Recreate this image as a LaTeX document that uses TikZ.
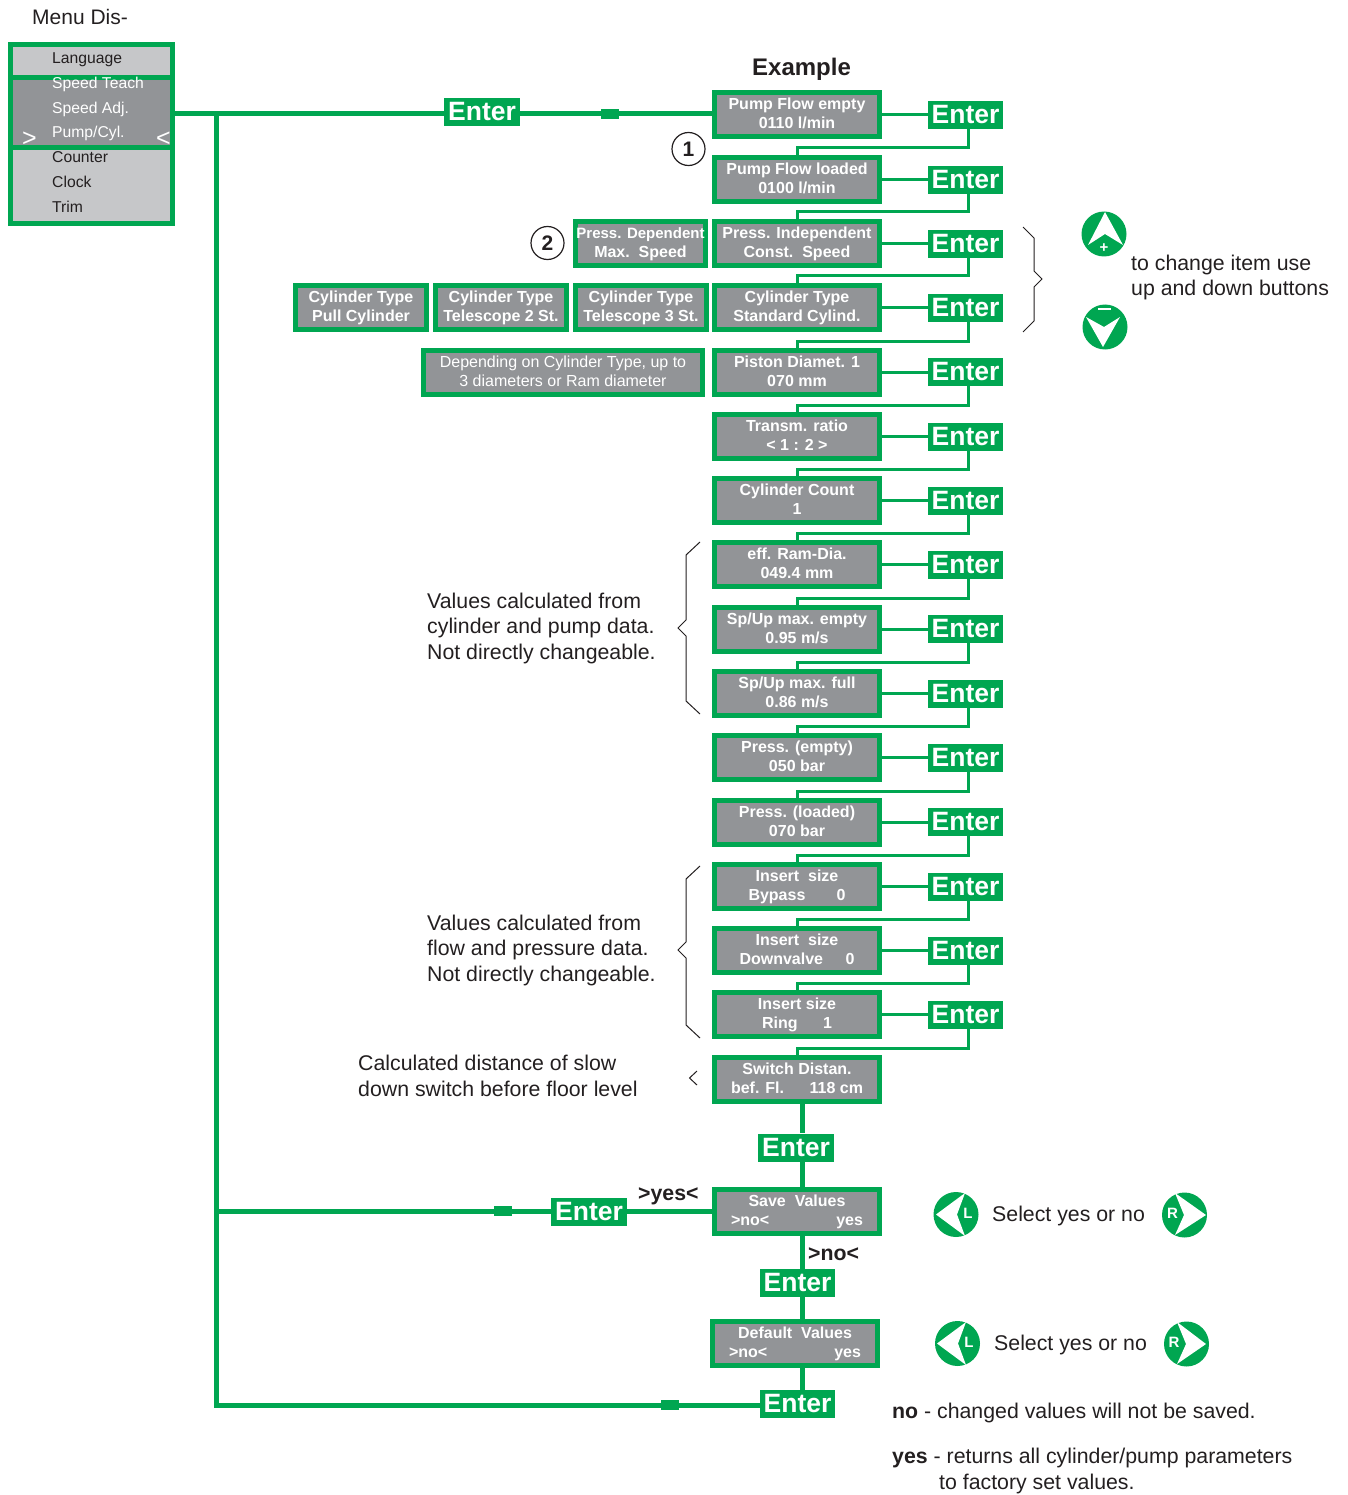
\documentclass[tikz,border=0pt]{standalone}
\usepackage{fontspec}
\setmainfont{Liberation Sans}
\definecolor{gr}{HTML}{00A651}
\definecolor{dk}{HTML}{929497}
\definecolor{lt}{HTML}{C6C7C9}
\definecolor{ink}{HTML}{231F20}
\tikzset{
 dbox/.style={draw=gr,line width=5pt,fill=dk,text=white,align=center,inner sep=0pt,minimum height=44pt,
   text height=33pt,text depth=4.8pt,
   font=\fontsize{16}{19}\selectfont\bfseries},
 mainbox/.style={dbox,minimum width=165pt},
 enterbox/.style={fill=gr,text=white,inner sep=0pt,minimum width=75pt,minimum height=28pt,
   text height=19.5pt,text depth=2.5pt,
   font=\fontsize{26.5}{28}\selectfont\bfseries},
 link/.style={draw=gr,line width=3pt},
 trunk/.style={draw=gr,line width=5pt},
 sq/.style={fill=gr,inner sep=0pt,minimum width=18pt,minimum height=10pt},
 note/.style={text=ink,anchor=base west,align=left,inner sep=0pt,font=\fontsize{21.3}{25.5}\selectfont},
 menuitem/.style={anchor=base west,inner sep=0pt,font=\fontsize{15.7}{18}\selectfont},
 num/.style={circle,draw=ink,line width=1.2pt,minimum size=33pt,inner sep=0pt,text=ink,font=\fontsize{21}{24}\selectfont\bfseries},
 brace/.style={draw=ink,line width=1pt},
 keyl/.style={text=white,inner sep=0pt,font=\fontsize{15}{16}\selectfont\bfseries},
}
\newcommand\rowlink[3]{%
 \draw[link] (#1.east) -- (#1.east -| #2.west);
 \draw[link] ([xshift=2.5pt]#2.south) |- ([yshift=7pt]#3.north) -- (#3.north);}
\begin{document}
\begin{tikzpicture}[x=1pt,y=-1pt]
\useasboundingbox (0,0) rectangle (1347,1495);
% menu
\node[draw=gr,line width=5pt,fill=lt,inner sep=0pt,minimum width=162.5pt,minimum height=179pt] (menu) at (91.5,134.5) {};
\node[draw=gr,line width=5pt,fill=dk,inner sep=0pt,minimum width=162.5pt,minimum height=70pt] (band) at (91.5,112.5) {};
\node[menuitem,text=ink] (m1) at (52,64) {Language};
\node[menuitem,text=white] (m2) at (52,89) {Speed Teach};
\node[menuitem,text=white] (m3) at (52,114) {Speed Adj.};
\node[menuitem,text=white] (m4) at (52,138) {Pump/Cyl.};
\node[menuitem,text=ink] (m5) at (52,163) {Counter};
\node[menuitem,text=ink] (m6) at (52,188) {Clock};
\node[menuitem,text=ink] (m7) at (52,213) {Trim};
\node[text=white,inner sep=0pt,font=\fontsize{25}{26}\selectfont] (ga) at (29.5,139) {>};
\node[text=white,inner sep=0pt,font=\fontsize{25}{26}\selectfont] (lt) at (163.5,139) {<};
\node[note,font=\fontsize{21}{24}\selectfont] (title) at (32,25) {Menu Dis-};
\node[note,font=\fontsize{24}{28}\selectfont\bfseries] (example) at (752,76) {Example};
% main column
\node[mainbox] (b1) at (797,114.5) {Pump Flow empty\\0110 l/min};
\node[mainbox] (b2) at (797,179.5) {Pump Flow loaded\\0100 l/min};
\node[mainbox] (b3) at (797,243.5) {Press. Independent\\Const.\ \ Speed};
\node[mainbox] (b4) at (797,307.5) {Cylinder Type\\Standard Cylind.};
\node[mainbox] (b5) at (797,372.5) {Piston Diamet. 1\\070 mm};
\node[mainbox] (b6) at (797,436.5) {Transm. ratio\\< 1 : 2 >};
\node[mainbox] (b7) at (797,500.5) {Cylinder Count\\1};
\node[mainbox] (b8) at (797,564.5) {eff. Ram-Dia.\\049.4 mm};
\node[mainbox] (b9) at (797,629.5) {Sp/Up max. empty\\0.95 m/s};
\node[mainbox] (b10) at (797,693.5) {Sp/Up max. full\\0.86 m/s};
\node[mainbox] (b11) at (797,757.5) {Press. (empty)\\050 bar};
\node[mainbox] (b12) at (797,822.5) {Press. (loaded)\\070 bar};
\node[mainbox] (b13) at (797,886.5) {Insert\ \ size\\\makebox[97pt]{Bypass\hfill 0}};
\node[mainbox] (b14) at (797,950.5) {Insert\ \ size\\\makebox[115pt]{Downvalve\hfill 0}};
\node[mainbox] (b15) at (797,1014.5) {Insert size\\\makebox[70pt]{Ring\hfill 1}};
\node[mainbox] (b16) at (797,1079.5) {Switch Distan.\\\makebox[132pt]{bef. Fl.\hfill 118 cm}};
\node[mainbox] (save) at (797,1211.5) {Save\ \ Values\\\makebox[132pt]{>no<\hfill yes}};
\node[mainbox] (def) at (795,1343.5) {Default\ \ Values\\\makebox[132pt]{>no<\hfill yes}};
% side boxes
\node[dbox,minimum width=130pt] (s1) at (640.5,243.5) {{\fontsize{15}{19}\selectfont Press. Dependent}\\Max.\ \ Speed};
\node[dbox,minimum width=131pt] (s2) at (361,307.5) {Cylinder Type\\Pull Cylinder};
\node[dbox,minimum width=131pt] (s3) at (501,307.5) {Cylinder Type\\Telescope 2 St.};
\node[dbox,minimum width=131pt] (s4) at (641,307.5) {Cylinder Type\\Telescope 3 St.};
\node[dbox,minimum width=279pt,font=\fontsize{16}{19}\selectfont] (s5) at (563,372.5) {Depending on Cylinder Type, up to\\3 diameters or Ram diameter};
% enter column
\foreach \i/\yy in {1/115,2/180,3/244,4/308,5/372,6/437,7/501,8/565,9/629,10/694,11/758,12/822,13/887,14/951,15/1015}
  \node[enterbox] (e\i) at (965.5,\yy) {Enter};
\rowlink{b1}{e1}{b2}
\rowlink{b2}{e2}{b3}
\rowlink{b3}{e3}{b4}
\rowlink{b4}{e4}{b5}
\rowlink{b5}{e5}{b6}
\rowlink{b6}{e6}{b7}
\rowlink{b7}{e7}{b8}
\rowlink{b8}{e8}{b9}
\rowlink{b9}{e9}{b10}
\rowlink{b10}{e10}{b11}
\rowlink{b11}{e11}{b12}
\rowlink{b12}{e12}{b13}
\rowlink{b13}{e13}{b14}
\rowlink{b14}{e14}{b15}
\rowlink{b15}{e15}{b16}
% trunk lines
\coordinate (railtop) at (216,114);
\coordinate (railbot) at (216,1405);
\coordinate (vx) at (802,1100);
\node[enterbox,minimum width=76pt] (etop) at (482,112.5) {Enter};
\node[enterbox,minimum width=76pt] (es) at (796,1147.5) {Enter};
\node[enterbox,minimum width=76pt] (esy) at (589,1211.5) {Enter};
\node[enterbox] (esn) at (797.5,1283) {Enter};
\node[enterbox] (ed) at (797.5,1404) {Enter};
\draw[trunk] (band.east |- railtop) -- (railtop -| etop.west);
\draw[trunk] (etop.east |- railtop) -- (railtop -| b1.west);
\draw[trunk] ([yshift=2.5pt]railtop) -- ([yshift=-2.5pt]railbot);
\draw[trunk] (esy.west) -- (esy.west -| railtop);
\draw[trunk] (esy.east) -- (esy.east -| save.west);
\draw[trunk] (railbot -| ed.west) -- (railbot);
\draw[trunk] (vx |- b16.south) -- (vx |- es.north);
\draw[trunk] (vx |- es.south) -- (vx |- save.north);
\draw[trunk] (vx |- save.south) -- (vx |- esn.north);
\draw[trunk] (vx |- esn.south) -- (vx |- def.north);
\draw[trunk] (vx |- def.south) -- (vx |- ed.north);
\node[sq] (q1) at (609.5,114) {};
\node[sq] (q2) at (503,1211) {};
\node[sq] (q3) at (670,1405) {};
% labels
\node[note,font=\fontsize{21.3}{24}\selectfont\bfseries] (yes) at (638,1200) {>yes<};
\node[note,font=\fontsize{21.3}{24}\selectfont\bfseries] (no) at (808,1260) {>no<};
\node[num] (n1) at (688.5,149) {1};
\node[num] (n2) at (547.5,243) {2};
\node[note] (t1) at (427,659) {Values calculated from\\cylinder and pump data.\\Not directly changeable.};
\node[note] (t2) at (427,981) {Values calculated from\\flow and pressure data.\\Not directly changeable.};
\node[note] (t3) at (358,1096) {Calculated distance of slow\\down switch before floor level};
\node[note] (t4) at (1131,296) {to change item use\\up and down buttons};
\node[note] (t5) at (992,1221) {Select yes or no};
\node[note] (t6) at (994,1350) {Select yes or no};
\node[note] (t7) at (892,1418) {\textbf{no} - changed values will not be saved.};
\node[note] (t8) at (892,1463) {\textbf{yes} - returns all cylinder/pump parameters};
\node[note] (t9) at (939,1489) {to factory set values.};
% braces
\draw[brace] (700,542) -- (686,555) -- (686,620) -- (678,628) -- (686,636) -- (686,701) -- (700,714);
\draw[brace] (700,866) -- (686,879) -- (686,942) -- (678,950) -- (686,958) -- (686,1025) -- (700,1038);
\draw[brace] (697,1071) -- (689.5,1078) -- (697,1085);
\draw[brace] (1023,227) -- (1034,238) -- (1034,271) -- (1042,279) -- (1034,287) -- (1034,321) -- (1023,332);
% buttons
\fill[gr] (1104,234) circle (22.5);
\fill[white] (1105,212) -- (1088,245) -- (1105,234) -- (1123,245) -- cycle;
\node[keyl] (kp) at (1104,248) {+};
\fill[gr] (1105,327) circle (22.5);
\fill[white] (1086,317) -- (1104,327) -- (1120,317) -- (1103,347) -- cycle;
\fill[white] (1098,308.3) rectangle (1111,309.7);
\fill[gr] (956,1214.5) circle (22.5);
\fill[white] (936,1214.5) -- (965,1193) -- (957,1214.5) -- (965,1236) -- cycle;
\node[keyl] (kl1) at (968,1213) {L};
\fill[gr] (1184.5,1215) circle (22.5);
\fill[white] (1206,1215) -- (1175,1193) -- (1184,1215) -- (1175,1235) -- cycle;
\node[keyl] (kr1) at (1172.5,1213.5) {R};
\fill[gr] (957.5,1343.5) circle (22.5);
\fill[white] (937,1343.5) -- (966,1322) -- (958,1343.5) -- (966,1365) -- cycle;
\node[keyl] (kl2) at (969,1342) {L};
\fill[gr] (1186.5,1344) circle (22.5);
\fill[white] (1206,1344) -- (1177,1322) -- (1186,1344) -- (1177,1364) -- cycle;
\node[keyl] (kr2) at (1174,1342) {R};
\end{tikzpicture}
\end{document}
